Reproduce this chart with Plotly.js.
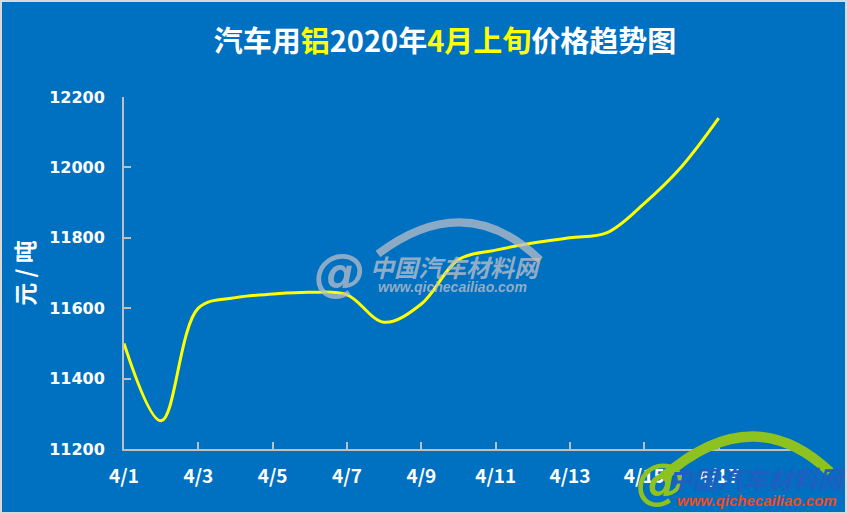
<!DOCTYPE html>
<html>
<head>
<meta charset="utf-8">
<script src="https://cdn.plot.ly/plotly-3.0.1.min.js"></script>
<style>
html,body{margin:0;padding:0;background:#D9D9D9;width:847px;height:514px;overflow:hidden;}
#chart{position:absolute;left:2px;top:2px;width:843px;height:510px;}
</style>
</head>
<body>
<div id="chart"></div>
<script>
// Data
var dates = ['2020-04-01','2020-04-02','2020-04-03','2020-04-04','2020-04-05','2020-04-06',
             '2020-04-07','2020-04-08','2020-04-09','2020-04-10','2020-04-11','2020-04-12',
             '2020-04-13','2020-04-14','2020-04-15','2020-04-16','2020-04-17'];
var prices = [11500, 11280, 11600, 11630, 11640, 11645, 11638, 11560, 11612, 11738,
              11765, 11785, 11800, 11815, 11898, 12002, 12140];
var xTickVals = ['2020-04-01','2020-04-03','2020-04-05','2020-04-07','2020-04-09',
                 '2020-04-11','2020-04-13','2020-04-15','2020-04-17'];
var xTickText = ['4/1','4/3','4/5','4/7','4/9','4/11','4/13','4/15','4/17'];
var yTickVals = [11200, 11400, 11600, 11800, 12000, 12200];
var yTickText = ['11200', '11400', '11600', '11800', '12000', '12200'];

var W = 843, H = 510, L = 122, T = 95, R = 52, B = 63;
var pw = W - L - R, ph = H - T - B;
// helper: page pixel -> paper coords (for decorative watermark only)
function px(x){ return (x - 2 - L) / pw; }
function py(y){ return (H - B - (y - 2)) / ph; }

var trace = {
  x: dates, y: prices, type: 'scatter', mode: 'lines',
  line: {color: '#FFFF00', width: 3, shape: 'spline', smoothing: 1},
  hoverinfo: 'skip'
};

var cjk = '"Noto Sans CJK SC", "Noto Sans", sans-serif';
function wm(text, x, y, fam, size, color){
  return {text: text, xref: 'paper', yref: 'paper', x: px(x), y: py(y),
          xanchor: 'center', yanchor: 'middle', showarrow: false,
          font: {family: fam, size: size, color: color}};
}
var layout = {
  width: W, height: H,
  margin: {l: L, r: R, t: T, b: B, pad: 0},
  paper_bgcolor: '#0070C0', plot_bgcolor: '#0070C0',
  showlegend: false,
  title: {
    text: '汽车用<span style="color:#FFFF00">铝</span>2020年<span style="color:#FFFF00">4月上旬</span>价格趋势图',
    font: {family: cjk, size: 29, color: '#FFFFFF', weight: 700},
    x: 443 / W, xanchor: 'center', xref: 'container',
    y: 1 - 40 / H, yanchor: 'middle', yref: 'container'
  },
  xaxis: {
    type: 'date', range: ['2020-04-01', '2020-04-19'],
    tickvals: xTickVals, ticktext: xTickText,
    ticks: 'inside', ticklen: 7, tickwidth: 2, tickcolor: '#BFBFBF',
    showline: true, linecolor: '#BFBFBF', linewidth: 2,
    showgrid: false, zeroline: false,
    tickfont: {family: cjk, size: 19, color: '#FFFFFF', weight: 700},
    ticklabelstandoff: 9
  },
  yaxis: {
    range: [11200, 12200], tickvals: yTickVals, ticktext: yTickText,
    ticks: 'inside', ticklen: 7, tickwidth: 2, tickcolor: '#BFBFBF',
    showline: true, linecolor: '#BFBFBF', linewidth: 2,
    showgrid: false, zeroline: false,
    tickfont: {family: '"DejaVu Sans", sans-serif', size: 16, color: '#FFFFFF', weight: 700},
    ticklabelstandoff: 14,
    title: {text: '元 / 吨', font: {family: cjk, size: 23, color: '#FFFFFF', weight: 700}, standoff: 8}
  },
  shapes: [
    {type: 'path', xref: 'paper', yref: 'paper', layer: 'above',
     path: 'M ' + px(378) + ',' + py(254) + ' Q ' + px(466) + ',' + py(188) + ' ' + px(540) + ',' + py(260),
     line: {color: 'rgba(185,190,200,0.75)', width: 8}},
    {type: 'path', xref: 'paper', yref: 'paper', layer: 'above',
     path: 'M ' + px(662) + ',' + py(478) + ' Q ' + px(752) + ',' + py(398) + ' ' + px(830) + ',' + py(472),
     line: {color: '#8DC21F', width: 10}}
  ],
  annotations: [
    wm('<b><i>@</i></b>', 340, 272, '"DejaVu Sans", sans-serif', 52, 'rgba(185,190,200,0.75)'),
    wm('<b><i>中国汽车材料网</i></b>', 455, 266, cjk, 24, 'rgba(185,190,200,0.8)'),
    wm('<b><i>www.qichecailiao.com</i></b>', 452, 287, '"Liberation Sans", sans-serif', 14, 'rgba(185,190,200,0.8)'),
    wm('<b><i>@</i></b>', 661, 481, '"DejaVu Sans", sans-serif', 50, '#8DC21F'),
    wm('<b><i>中国汽车材料网</i></b>', 757, 478, cjk, 25, '#1E5FC0'),
    wm('<b><i>www.qichecailiao.com</i></b>', 757, 500, '"Liberation Sans", sans-serif', 15, '#F04A1A')
  ]
};

Plotly.newPlot('chart', [trace], layout, {displayModeBar: false, staticPlot: true});
</script>
</body>
</html>
